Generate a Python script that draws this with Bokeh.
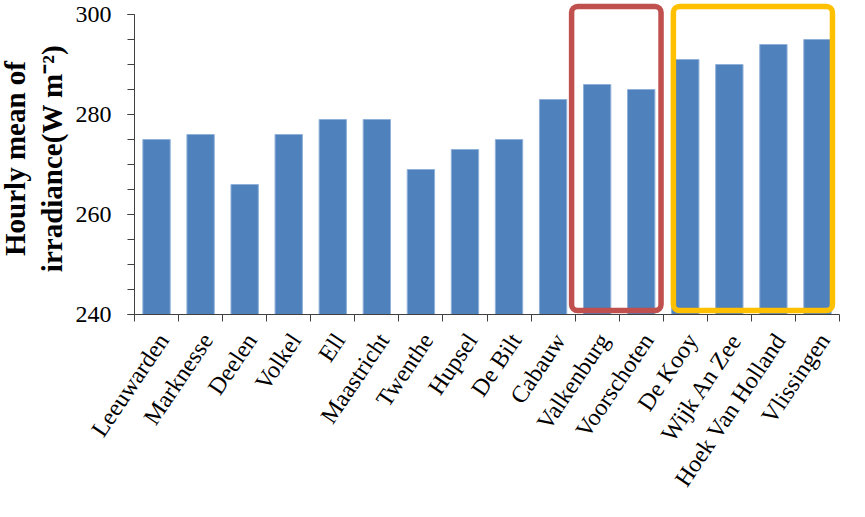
import math
from bokeh.plotting import figure
from bokeh.models import (Range1d, FixedTicker, SingleIntervalTicker, BoxAnnotation,
                          ColumnDataSource, CustomJSTickFormatter)
from bokeh.core.properties import value
from bokeh.embed import file_html
from bokeh.resources import INLINE

stations = ["Leeuwarden", "Marknesse", "Deelen", "Volkel", "Ell", "Maastricht",
            "Twenthe", "Hupsel", "De Bilt", "Cabauw", "Valkenburg", "Voorschoten",
            "De Kooy", "Wijk An Zee", "Hoek Van Holland", "Vlissingen"]
irradiance = [275, 276, 266, 276, 279, 279, 269, 273, 275, 283, 286, 285, 291, 290, 294, 295]

y_min, y_max = 240, 300
y_tick_values = [240, 260, 280, 300]
y_tick_labels = ["240", "260", "280", "300"]
y_title_lines = ["Hourly mean of", "irradiance(W m\u207b\u00b2)"]

# highlighted groups: (first station index, last station index)
red_group = (10, 11)
yellow_group = (12, 15)

n = len(stations)
centers = [i + 0.5 for i in range(n)]
bounds = list(range(n + 1))

# ---- layout (frame pixels) ----
frame_w, frame_h = 843, 497
x0_px, x16_px = 134, 839      # frame x of first / last category boundary
y300_px, y240_px = 14, 314    # frame y of top / bottom of value scale
px_per_x = (x16_px - x0_px) / n
px_per_y = (y240_px - y300_px) / (y_max - y_min)

x_left = -x0_px / px_per_x
x_right = x_left + frame_w / px_per_x
y_top = y_max + y300_px / px_per_y
y_bottom = y_top - frame_h / px_per_y

src = ColumnDataSource(dict(x=centers, top=irradiance, base=[y_min] * n, name=stations))
tick_src = ColumnDataSource(dict(y=y_tick_values, label=y_tick_labels, x=[0] * len(y_tick_values)))

p = figure(frame_width=frame_w, frame_height=frame_h, output_backend="svg", toolbar_location=None,
           x_range=Range1d(x_left, x_right), y_range=Range1d(y_bottom, y_top),
           x_axis_location="above", y_axis_location="right",
           min_border_left=0, min_border_right=0, min_border_top=0, min_border_bottom=0)
p.outline_line_color = None
p.xgrid.visible = False
p.ygrid.visible = False
p.background_fill_color = "white"
p.border_fill_color = "white"

p.vbar(x="x", top="top", bottom=y_min, width=0.62, source=src,
       fill_color="#4F81BD", line_color="#8FB0D8", line_width=1)

# highlight boxes
def add_box(group, color, pad_left, pad_right):
    a, b = group
    p.add_layout(BoxAnnotation(left=a - pad_left, right=b + 1 - pad_right,
                               bottom=y_min + 0.8, top=y_max + 1.6,
                               fill_alpha=0, line_color=color, line_alpha=1.0, line_width=5.5,
                               border_radius=6, level="overlay"))

add_box(red_group, "#C0504D", 0.08, 0.05)
add_box(yellow_group, "#FFC000", -0.23, 0.16)

font = "Liberation Serif"
axis_color = "#404040"
blank = CustomJSTickFormatter(code="return ''")

# value axis, fixed at the first category boundary, ticks pointing left
ya = p.yaxis[0]
ya.fixed_location = 0
ya.bounds = (y_min, y_max)
ya.ticker = SingleIntervalTicker(interval=20, num_minor_ticks=4)
ya.formatter = blank
ya.axis_line_color = axis_color
ya.major_tick_line_color = axis_color
ya.minor_tick_line_color = axis_color
ya.major_tick_in = 7
ya.major_tick_out = 0
ya.minor_tick_in = 7
ya.minor_tick_out = 0
ya.major_label_standoff = 0

# category axis, fixed at the bottom of the value range, boundary ticks pointing down
xa = p.xaxis[0]
xa.fixed_location = y_min
xa.bounds = (0, n)
xa.ticker = FixedTicker(ticks=[], minor_ticks=bounds)
xa.formatter = blank
xa.axis_line_color = axis_color
xa.major_tick_in = 0
xa.major_tick_out = 0
xa.minor_tick_in = 7
xa.minor_tick_out = 0
xa.minor_tick_line_color = axis_color
xa.major_label_standoff = 0

# value tick labels
p.text(x="x", y="y", text="label", source=tick_src, x_offset=-23,
       text_align="right", text_baseline="middle",
       text_font=value(font), text_font_size="24px", text_color="black")

# value axis title (two lines, rotated)
title_src = ColumnDataSource(dict(x=[0, 0], y=[(y_min + y_max) / 2] * 2, t=y_title_lines,
                                  xo=[-120, -83]))
p.text(x="x", y="y", text="t", source=title_src, x_offset="xo", y_offset=-6,
       angle=math.pi / 2, text_align="center", text_baseline="middle",
       text_font=value(font), text_font_style="bold", text_font_size="29px", text_color="black")

# rotated category labels
p.text(x="x", y="base", text="name", source=src, angle=math.radians(56),
       x_offset=-4, y_offset=14, text_align="right", text_baseline="top",
       text_font=value(font), text_font_size="24px", text_color="black")

open("out.html", "w").write(file_html(p, INLINE))
